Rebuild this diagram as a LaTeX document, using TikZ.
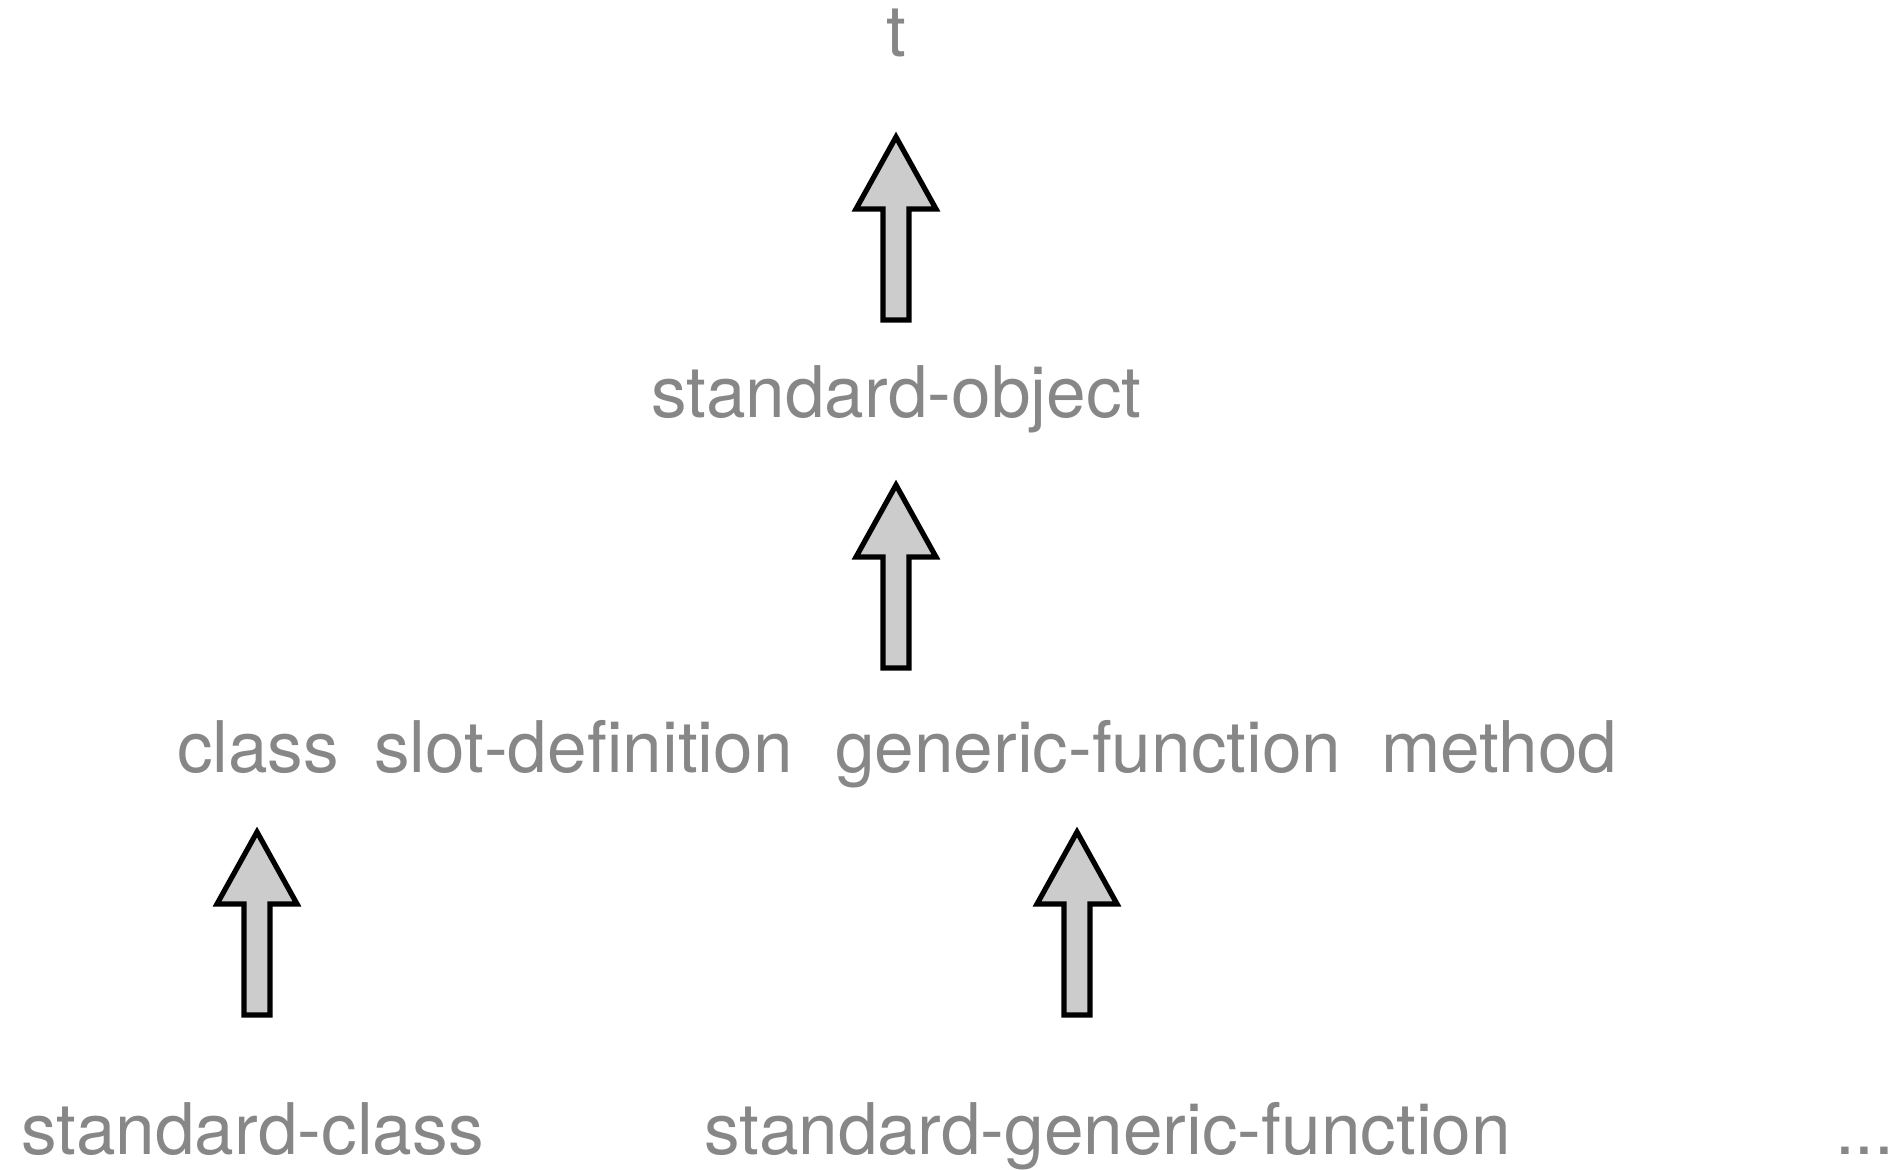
\documentclass[tikz,border=0pt]{standalone}
\usepackage{fontspec}
\setmainfont{TeX Gyre Heros}
\definecolor{labelgray}{HTML}{878787}
\definecolor{arrowfill}{HTML}{CCCCCC}
\begin{document}
\begin{tikzpicture}[x=0.5pt,y=-0.5pt,
  lbl/.style={inner sep=0pt, outer sep=0pt, text=labelgray, font=\fontsize{35.6pt}{40pt}\selectfont},
  uparrow/.pic={
    \draw[line width=2.6pt, miter limit=10, fill=arrowfill, draw=black]
      (0,0) -- (40,72) -- (13,72) -- (13,183) -- (-13,183) -- (-13,72) -- (-40,72) -- cycle;
  }]
\useasboundingbox (0,0) rectangle (1902,1170);
% labels
\node[lbl, anchor=base] (t) at (896,57) {t};
\node[lbl, anchor=base west] (sobj) at (651,418) {standard-object};
\node[lbl, anchor=base west] (cls) at (177,773) {class};
\node[lbl, anchor=base west] (slot) at (374,773) {slot-definition};
\node[lbl, anchor=base west] (gf) at (835,773) {generic-function};
\node[lbl, anchor=base west] (meth) at (1381,773) {method};
\node[lbl, anchor=base west] (scls) at (21,1154) {standard-class};
\node[lbl, anchor=base west] (sgf) at (704,1154) {standard-generic-function};
\node[lbl, anchor=base west] (dots) at (1835,1154) {...};
% arrow tips
\coordinate (a1) at (896,137);
\coordinate (a2) at (896,485);
\coordinate (a3) at (257,832);
\coordinate (a4) at (1077,832);
\pic at (a1) {uparrow};
\pic at (a2) {uparrow};
\pic at (a3) {uparrow};
\pic at (a4) {uparrow};
\end{tikzpicture}
\end{document}
